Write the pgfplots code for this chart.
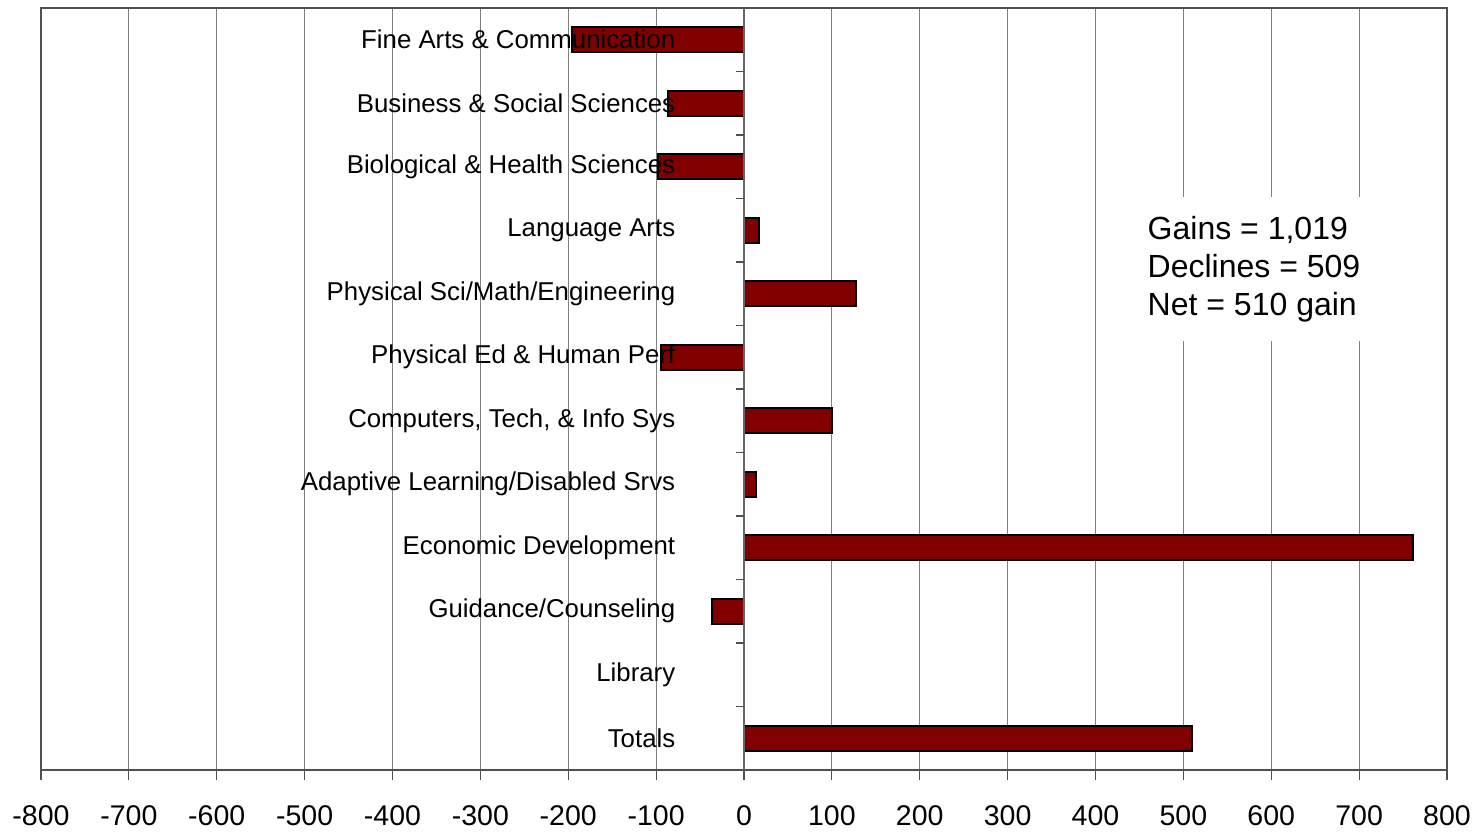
\documentclass[border=0pt]{standalone}
\usepackage{pgfplots}
\pgfplotsset{compat=1.18}
\usepackage{fontspec}
\setmainfont{Liberation Sans}
\definecolor{barred}{RGB}{128,0,0}
\definecolor{gridgray}{RGB}{128,128,128}
\definecolor{framegray}{RGB}{80,80,80}
\begin{document}
\begin{tikzpicture}
\begin{axis}[
  scale only axis,
  width=703pt, height=381pt,
  xmin=-800, xmax=800,
  ymin=-0.5, ymax=11.5,
  y dir=reverse,
  xtick={-800,-700,...,800},
  ytick=\empty,
  xmajorgrids,
  grid style={gridgray, line width=0.5pt},
  axis line style={framegray, line width=0.75pt},
  tick align=outside,
  xtick pos=bottom,
  major tick length=5pt,
  tick style={framegray, line width=0.6pt},
  /pgf/number format/assume math mode=true,
  /pgf/number format/1000 sep={},
  xticklabel style={font=\fontsize{14.25}{16}\selectfont, yshift=-9.5pt},
  clip=false,
]
\addplot[xbar, bar width=12.5pt, fill=barred, draw=black, line width=1pt]
  coordinates {(-196,0) (-86,1) (-98,2) (17,3) (127,4) (-95,5) (100,6) (14,7) (761,8) (-36,9) (0,10) (510,11)};
\draw[gridgray!80!black, line width=0.8pt] (axis cs:0,-0.5) -- (axis cs:0,11.5);
\pgfplotsinvokeforeach{0.5,1.5,2.5,3.5,4.5,5.5,6.5,7.5,8.5,9.5,10.5}{
  \draw[framegray, line width=0.6pt] (axis cs:0,#1) -- ++(-4pt,0pt);
}
\begin{scope}[every node/.style={anchor=east, inner sep=0pt, font=\fontsize{12.9}{15}\selectfont}]
\node at ([xshift=-34.2pt]axis cs:0,0) {Fine Arts \& Communication};
\node at ([xshift=-34.2pt]axis cs:0,1) {Business \& Social Sciences};
\node at ([xshift=-34.2pt]axis cs:0,2) {Biological \& Health Sciences};
\node at ([xshift=-34.2pt]axis cs:0,3) {Language Arts};
\node at ([xshift=-34.2pt]axis cs:0,4) {Physical Sci/Math/Engineering};
\node at ([xshift=-34.2pt]axis cs:0,5) {Physical Ed \& Human Perf};
\node at ([xshift=-34.2pt]axis cs:0,6) {Computers, Tech, \& Info Sys};
\node at ([xshift=-34.2pt]axis cs:0,7) {Adaptive Learning/Disabled Srvs};
\node at ([xshift=-34.2pt]axis cs:0,8) {Economic Development};
\node at ([xshift=-34.2pt]axis cs:0,9) {Guidance/Counseling};
\node at ([xshift=-34.2pt]axis cs:0,10) {Library};
\node at ([xshift=-34.2pt]axis cs:0,11) {Totals};
\end{scope}
\node[anchor=north west, fill=white, inner xsep=5pt, inner ysep=9.5pt, align=left,
  font=\fontsize{16}{19}\selectfont] at (axis cs:447.6,2.476)
  {Gains = 1,019\\Declines = 509\\Net = 510 gain};
\end{axis}
\path (current axis.south west) ++(-20.5pt,-30pt) coordinate (bbsw);
\path (current axis.north east) ++(15.5pt,4pt) coordinate (bbne);
\path[use as bounding box] (bbsw) rectangle (bbne);
\end{tikzpicture}
\end{document}
